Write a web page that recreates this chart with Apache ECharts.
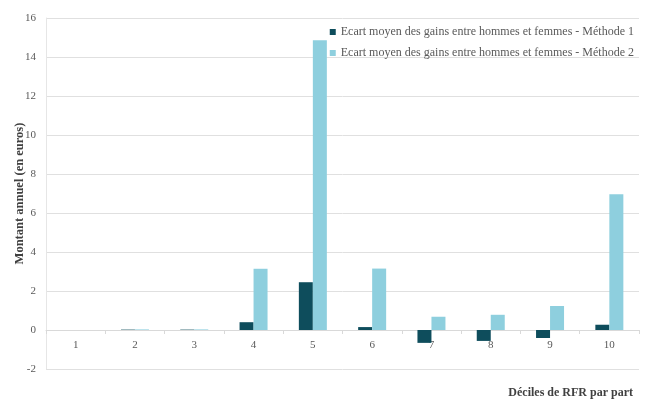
<!DOCTYPE html>
<html><head><meta charset="utf-8">
<script src="https://cdn.jsdelivr.net/npm/echarts@6/dist/echarts.min.js"></script>
<style>html,body{margin:0;padding:0;background:#fff}#c{width:645px;height:403px}</style>
</head><body><div id="c"></div>
<script>
const categories = ['1','2','3','4','5','6','7','8','9','10'];
const methode1 = [0, 0.02, 0.02, 0.4, 2.45, 0.15, -0.66, -0.56, -0.41, 0.27];
const methode2 = [0, 0.03, 0.03, 3.14, 14.86, 3.15, 0.68, 0.78, 1.23, 6.96];
const seriesNames = ['Ecart moyen des gains entre hommes et femmes - Méthode 1','Ecart moyen des gains entre hommes et femmes - Méthode 2'];
const font = 'Liberation Serif';
const chart = echarts.init(document.getElementById('c'));
chart.setOption({
  animation:false,
  textStyle:{fontFamily:font},
  grid:{left:46,right:6,top:18,bottom:34,outerBoundsMode:'none',containLabel:false},
  legend:{orient:'vertical',right:6,top:21,itemWidth:6,itemHeight:6,itemGap:9,icon:'rect',
    textStyle:{fontFamily:font,fontSize:12,color:'#595959'},data:seriesNames},
  xAxis:{type:'category',data:categories,position:'bottom',offset:-39,
    axisLine:{onZero:false,lineStyle:{color:'#d9d9d9'}},
    axisTick:{show:true,length:4,lineStyle:{color:'#d9d9d9'}},
    axisLabel:{color:'#595959',fontSize:11,fontFamily:font,margin:10}},
  yAxis:{type:'value',min:-2,max:16,interval:2,
    name:'Montant annuel (en euros)',nameLocation:'middle',nameGap:20,nameMoveOverlap:false,
    nameTextStyle:{fontFamily:font,fontWeight:'bold',fontSize:12.5,color:'#404040'},
    axisLine:{show:true,lineStyle:{color:'#e6e6e6'}},
    axisTick:{show:false},
    axisLabel:{color:'#595959',fontSize:11,fontFamily:font,margin:10},
    splitLine:{lineStyle:{color:'#e0e0e0'}}},
  graphic:[{type:'text',right:12,bottom:4,style:{text:'Déciles de RFR par part',fontFamily:font,fontWeight:'bold',fontSize:12,fill:'#404040'}}],
  series:[
    {name:seriesNames[0],type:'bar',data:methode1,barWidth:14,barGap:'0%',itemStyle:{color:'#0e4d5c'}},
    {name:seriesNames[1],type:'bar',data:methode2,barWidth:14,barGap:'0%',itemStyle:{color:'#8ecfde'}}
  ]
});
</script></body></html>
